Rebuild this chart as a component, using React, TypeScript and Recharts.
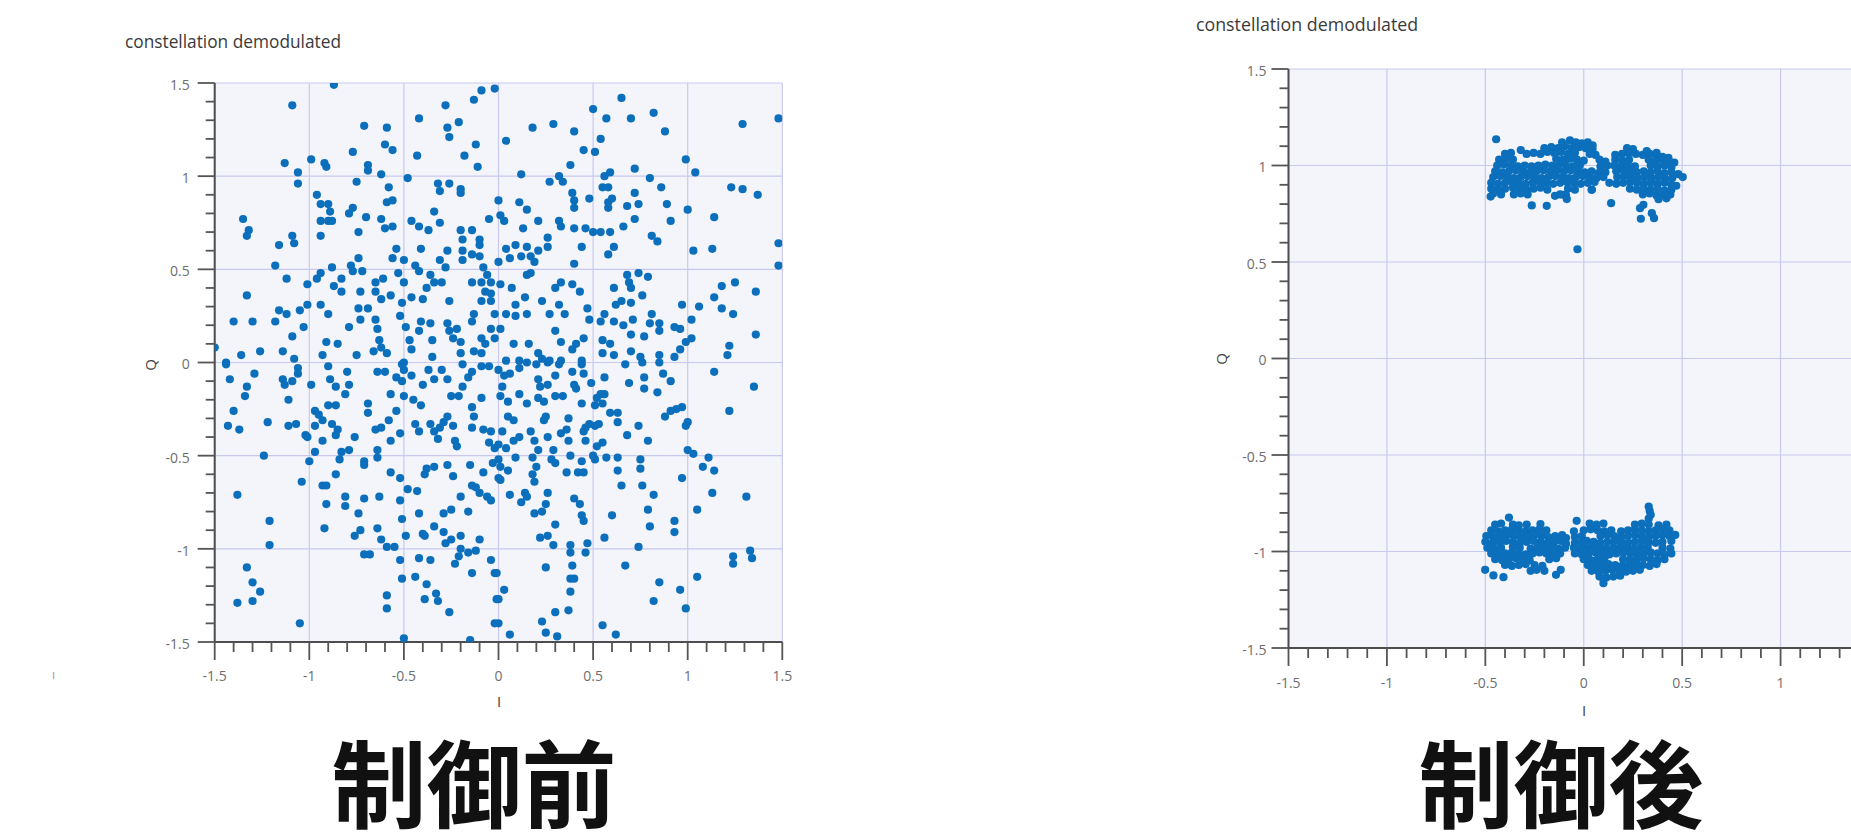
import { CartesianGrid, Scatter, ScatterChart, XAxis, YAxis } from 'recharts'

// axis ticks (same on I and Q)
const majorTicks = [-1.5, -1, -0.5, 0, 0.5, 1, 1.5]
const minorTicks = [
  -1.4, -1.3, -1.2, -1.1, -0.9, -0.8, -0.7, -0.6, -0.4, -0.3, -0.2, -0.1,
  0.1, 0.2, 0.3, 0.4, 0.6, 0.7, 0.8, 0.9, 1.1, 1.2, 1.3, 1.4,
]
const axisTicks = [...majorTicks, ...minorTicks].sort((a, b) => a - b)

const titles = ['constellation demodulated', 'constellation demodulated']
const captions = ['制御前', '制御後']

// 制御前 : [I, Q]
const beforePoints: [number, number][] = [
  [-0.87,1.49],[-1.09,1.38],[-0.71,1.27],[-0.59,1.26],[-0.60,1.17],[-0.56,1.14],[-0.77,1.13],[-0.42,1.31],[-0.28,1.38],[-0.27,1.26],
  [-0.26,1.21],[-0.21,1.29],[-0.13,1.41],[-0.09,1.46],[-0.02,1.47],[-0.12,1.17],[-0.18,1.11],[-0.11,1.05],[-0.43,1.11],[-0.48,0.99],
  [-0.99,1.09],[-0.92,1.07],[-0.91,1.05],[-1.13,1.07],[-1.06,1.02],[-1.06,0.96],[-0.69,1.06],[-0.69,1.03],[-0.62,1.01],[-0.75,0.97],
  [-0.58,0.94],[-0.32,0.96],[-0.31,0.92],[-0.26,0.96],[-0.20,0.93],[-0.20,0.91],[0.0,0.87],[-0.96,0.90],[-0.94,0.85],[-0.90,0.85],
  [-0.89,0.81],[-0.94,0.76],[-0.90,0.76],[-0.88,0.76],[-0.94,0.68],[-0.79,0.80],[-0.77,0.83],[-0.70,0.78],[-0.74,0.70],[-0.62,0.77],
  [-0.59,0.86],[-0.56,0.87],[-0.60,0.72],[-0.56,0.73],[-0.46,0.76],[-0.42,0.73],[-0.37,0.71],[-0.34,0.81],[-0.31,0.75],[-0.20,0.71],
  [-0.14,0.71],[-0.19,0.66],[-0.10,0.66],[-0.05,0.77],[-1.35,0.77],[-1.32,0.71],[-1.33,0.68],[-1.16,0.63],[-1.09,0.68],[-1.08,0.64],
  [-1.18,0.52],[-1.12,0.45],[-1.33,0.36],[-1.40,0.22],[-1.30,0.22],[-1.18,0.22],[-1.16,0.28],[-1.12,0.26],[-1.09,0.14],[-1.03,0.19],
  [-1.05,0.28],[-1.50,0.08],[-1.44,0.0],[-1.36,0.04],[-1.26,0.06],[-1.14,0.06],[-1.08,0.02],[-1.01,0.42],[-0.96,0.45],[-0.94,0.48],
  [-0.88,0.51],[-0.94,0.31],[-0.90,0.26],[-1.01,0.31],[-0.87,0.41],[-0.83,0.45],[-0.83,0.38],[-0.78,0.52],[-0.77,0.49],[-0.74,0.56],
  [-0.72,0.49],[-0.73,0.38],[-0.74,0.29],[-0.69,0.29],[-0.73,0.23],[-0.79,0.19],[-0.65,0.43],[-0.65,0.38],[-0.61,0.45],[-0.62,0.34],
  [-0.65,0.23],[-0.64,0.18],[-0.63,0.12],[-0.62,0.08],[-0.59,0.05],[-0.57,0.36],[-0.56,0.56],[-0.54,0.61],[-0.50,0.55],[-0.53,0.48],
  [-0.50,0.43],[-0.51,0.32],[-0.52,0.25],[-0.49,0.19],[-0.47,0.12],[-0.46,0.07],[-0.50,0.0],[-0.44,0.52],[-0.41,0.61],[-0.42,0.49],
  [-0.46,0.35],[-0.40,0.34],[-0.38,0.40],[-0.34,0.43],[-0.36,0.47],[-0.31,0.55],[-0.28,0.51],[-0.27,0.60],[-0.30,0.43],[-0.26,0.33],
  [-0.41,0.22],[-0.36,0.21],[-0.42,0.17],[-0.35,0.12],[-0.35,0.03],[-0.27,0.21],[-0.26,0.17],[-0.22,0.18],[-0.24,0.13],[-0.20,0.11],
  [-0.20,0.05],[-0.14,0.22],[-0.13,0.26],[-0.09,0.13],[-0.07,0.10],[-0.13,0.06],[-0.09,0.05],[-0.04,0.18],[-0.19,0.60],[-0.19,0.55],
  [-0.14,0.58],[-0.10,0.63],[-0.10,0.57],[-0.08,0.51],[-0.06,0.47],[-0.09,0.43],[-0.04,0.43],[-0.07,0.38],[-0.04,0.37],[-0.14,0.43],
  [-0.09,0.33],[-0.04,0.33],[0.0,0.54],[-0.02,0.26],[-0.02,0.13],[-0.66,0.06],[-0.75,0.04],[-0.91,0.11],[-0.85,0.10],[-0.93,0.04],
  [0.65,1.42],[0.50,1.36],[0.57,1.31],[0.70,1.31],[0.82,1.34],[0.88,1.24],[0.18,1.26],[0.29,1.28],[0.40,1.24],[0.04,1.19],
  [0.54,1.20],[0.45,1.14],[0.51,1.13],[0.38,1.06],[0.99,1.09],[1.04,1.02],[1.29,1.28],[1.48,1.31],[0.12,1.01],[0.27,0.97],
  [0.32,1.0],[0.34,0.97],[0.56,1.0],[0.59,1.02],[0.55,0.94],[0.58,0.94],[0.72,1.04],[0.80,0.99],[0.86,0.94],[1.23,0.94],
  [1.29,0.93],[1.37,0.90],[0.39,0.91],[0.40,0.87],[0.40,0.83],[0.48,0.88],[0.58,0.86],[0.60,0.88],[0.58,0.83],[0.68,0.84],
  [0.72,0.91],[0.74,0.85],[0.72,0.77],[0.66,0.73],[0.89,0.85],[0.91,0.76],[1.0,0.82],[1.14,0.78],[0.11,0.86],[0.15,0.82],
  [0.01,0.79],[0.03,0.76],[0.13,0.72],[0.21,0.76],[0.32,0.76],[0.33,0.73],[0.46,0.72],[0.50,0.70],[0.54,0.70],[0.59,0.70],
  [0.81,0.68],[0.84,0.65],[0.61,0.62],[0.58,0.58],[0.44,0.62],[0.40,0.53],[0.26,0.67],[0.26,0.62],[0.21,0.60],[0.17,0.57],
  [0.15,0.62],[0.09,0.63],[0.04,0.61],[0.06,0.56],[0.12,0.57],[0.19,0.54],[1.03,0.60],[1.13,0.61],[1.48,0.64],[1.48,0.52],
  [0.15,0.47],[0.17,0.48],[0.01,0.42],[0.07,0.40],[0.09,0.31],[0.14,0.35],[0.23,0.33],[0.30,0.40],[0.33,0.43],[0.39,0.42],
  [0.43,0.38],[0.32,0.31],[0.35,0.26],[0.27,0.26],[0.47,0.29],[0.48,0.23],[0.04,0.26],[0.09,0.25],[0.15,0.26],[0.01,0.18],
  [0.08,0.10],[0.16,0.10],[0.04,0.01],[0.11,0.01],[0.21,0.05],[0.27,0.01],[0.30,0.17],[0.33,0.11],[0.39,0.07],[0.41,0.10],
  [0.45,0.13],[0.44,0.01],[0.68,0.47],[0.69,0.43],[0.74,0.48],[0.70,0.40],[0.76,0.36],[0.79,0.46],[0.61,0.40],[0.62,0.31],
  [0.65,0.33],[0.70,0.32],[0.54,0.22],[0.56,0.26],[0.61,0.22],[0.66,0.20],[0.71,0.23],[0.81,0.26],[0.80,0.21],[0.85,0.21],
  [0.85,0.17],[0.70,0.15],[0.77,0.14],[0.93,0.19],[0.96,0.18],[0.97,0.31],[1.02,0.23],[1.06,0.30],[0.99,0.11],[1.02,0.13],
  [0.96,0.07],[0.93,0.03],[1.14,0.35],[1.18,0.41],[1.25,0.43],[1.18,0.29],[1.24,0.26],[1.36,0.38],[1.36,0.15],[1.22,0.09],
  [1.21,0.04],[0.55,0.12],[0.59,0.10],[0.55,0.05],[0.61,0.04],[0.70,0.06],[0.75,0.03],[0.85,0.04],[0.23,0.02],[0.33,0.01],
  [0.40,0.72],
  [-1.44,-0.01],[-1.42,-0.09],[-1.29,-0.06],[-1.33,-0.13],[-1.34,-0.18],[-1.40,-0.26],[-1.43,-0.34],[-1.37,-0.36],[-1.22,-0.32],[-1.24,-0.50],
  [-1.14,-0.09],[-1.13,-0.12],[-1.09,-0.10],[-1.06,-0.03],[-1.06,-0.06],[-1.11,-0.20],[-1.11,-0.34],[-1.07,-0.33],[-0.99,-0.12],[-1.02,-0.39],
  [-1.01,-0.40],[-0.97,-0.34],[-0.97,-0.26],[-0.95,-0.28],[-0.93,-0.31],[-0.88,-0.33],[-0.93,-0.42],[-0.97,-0.48],[-1.0,-0.53],[-1.04,-0.64],
  [-0.90,-0.02],[-0.89,-0.09],[-0.86,-0.13],[-0.90,-0.23],[-0.86,-0.23],[-0.85,-0.36],[-0.86,-0.39],[-0.80,-0.05],[-0.79,-0.12],[-0.81,-0.17],
  [-0.76,-0.40],[-0.83,-0.48],[-0.79,-0.47],[-0.84,-0.52],[-0.86,-0.60],[-0.93,-0.66],[-0.91,-0.66],[-0.91,-0.76],[-0.92,-0.89],[-0.81,-0.72],
  [-0.81,-0.77],[-0.71,-0.73],[-0.74,-0.81],[-0.73,-0.90],[-0.76,-0.93],[-0.71,-1.03],[-0.68,-1.03],[-0.71,-0.53],[-0.71,-0.55],[-0.69,-0.22],
  [-0.69,-0.27],[-0.64,-0.05],[-0.60,-0.05],[-0.65,-0.36],[-0.62,-0.35],[-0.64,-0.47],[-0.64,-0.51],[-0.63,-0.72],[-0.64,-0.89],[-0.62,-0.95],
  [-0.59,-0.99],[-0.55,-0.99],[-0.57,-0.59],[-0.58,-0.31],[-0.57,-0.42],[-0.54,-0.26],[-0.57,-0.17],[-0.54,-0.08],[-0.51,-0.01],[-0.50,-0.04],
  [-0.51,-0.10],[-0.50,-0.18],[-0.52,-0.38],[-0.52,-0.62],[-0.52,-0.74],[-0.51,-0.84],[-0.49,-0.93],[-0.52,-1.06],[-0.51,-1.16],[-0.59,-1.25],
  [-0.59,-1.32],[-0.50,-1.48],[-0.46,-0.07],[-0.45,-0.20],[-0.44,-0.33],[-0.42,-0.37],[-0.40,-0.12],[-0.41,-0.23],[-0.48,-0.68],[-0.43,-0.69],
  [-0.42,-0.81],[-0.40,-0.92],[-0.39,-0.93],[-0.42,-1.05],[-0.36,-1.06],[-0.44,-1.15],[-0.38,-1.19],[-0.39,-1.27],[-0.33,-1.24],[-0.32,-1.28],
  [-0.26,-1.34],[-0.37,-0.04],[-0.34,-0.09],[-0.30,-0.04],[-0.27,-0.09],[-0.25,-0.18],[-0.21,-0.18],[-0.19,-0.13],[-0.16,-0.08],[-0.14,-0.05],
  [-0.09,-0.02],[-0.05,-0.02],[-0.19,-0.01],[-0.36,-0.33],[-0.34,-0.37],[-0.31,-0.35],[-0.29,-0.32],[-0.27,-0.29],[-0.24,-0.34],[-0.32,-0.41],
  [-0.23,-0.42],[-0.22,-0.45],[-0.14,-0.24],[-0.13,-0.29],[-0.14,-0.35],[-0.09,-0.19],[-0.08,-0.36],[-0.04,-0.37],[-0.05,-0.43],[-0.02,-0.46],
  [-0.03,-0.54],[0.0,-0.62],[-0.08,-0.59],[-0.15,-0.55],[-0.14,-0.66],[-0.12,-0.67],[-0.10,-0.70],[-0.06,-0.72],[-0.04,-0.74],[-0.20,-0.72],
  [-0.24,-0.61],[-0.27,-0.55],[-0.34,-0.56],[-0.38,-0.57],[-0.39,-0.60],[-0.25,-0.79],[-0.29,-0.81],[-0.34,-0.88],[-0.29,-0.91],[-0.28,-0.97],
  [-0.25,-0.95],[-0.20,-0.93],[-0.16,-0.80],[-0.20,-1.0],[-0.21,-1.04],[-0.23,-1.08],[-0.16,-1.02],[-0.14,-1.13],[-0.10,-0.95],[-0.12,-1.01],
  [-0.04,-1.06],[-0.02,-1.13],[-0.01,-1.27],[-0.02,-1.40],[-0.15,-1.49],[-1.05,-1.40],[-1.38,-0.71],[-1.21,-0.85],[-1.21,-0.98],[-1.33,-1.10],
  [-1.30,-1.18],[-1.26,-1.23],[-1.30,-1.28],[-1.38,-1.29],
  [0.0,-0.04],[0.03,-0.07],[0.06,-0.06],[0.11,-0.03],[0.15,0.0],[0.20,-0.01],[0.26,0.0],[0.32,-0.01],[0.39,-0.05],[0.44,-0.01],
  [0.49,-0.11],[0.45,-0.06],[0.56,-0.08],[0.67,-0.01],[0.76,0.0],[0.69,-0.11],[0.77,-0.08],[0.77,-0.14],[0.84,-0.16],[0.87,-0.06],
  [0.91,-0.10],[0.85,0.0],[1.14,-0.05],[1.35,-0.13],[1.22,-0.26],[0.02,-0.13],[0.01,-0.18],[0.05,-0.21],[0.11,-0.17],[0.15,-0.22],
  [0.21,-0.09],[0.22,-0.13],[0.26,-0.12],[0.21,-0.19],[0.24,-0.21],[0.30,-0.18],[0.34,-0.18],[0.30,-0.07],[0.40,-0.12],[0.41,-0.14],
  [0.44,-0.22],[0.52,-0.19],[0.54,-0.17],[0.56,-0.17],[0.55,-0.22],[0.51,-0.23],[0.59,-0.27],[0.63,-0.27],[0.63,-0.32],[0.68,-0.39],
  [0.74,-0.34],[0.79,-0.42],[0.88,-0.29],[0.91,-0.26],[0.94,-0.25],[0.97,-0.24],[1.0,-0.32],[0.99,-0.34],[1.0,-0.47],[1.03,-0.49],
  [1.11,-0.51],[1.08,-0.56],[1.14,-0.58],[0.97,-0.62],[1.05,-0.79],[1.13,-0.70],[1.31,-0.72],[1.24,-1.04],[1.24,-1.08],[1.33,-1.01],
  [1.34,-1.05],[1.05,-1.15],[0.99,-1.32],[0.96,-1.22],[0.85,-1.18],[0.82,-1.28],[0.93,-0.85],[0.93,-0.91],[0.80,-0.88],[0.79,-0.79],
  [0.82,-0.71],[0.76,-0.66],[0.75,-0.57],[0.75,-0.52],[0.65,-0.66],[0.63,-0.58],[0.63,-0.51],[0.57,-0.51],[0.51,-0.52],[0.50,-0.50],
  [0.60,-0.82],[0.56,-0.94],[0.74,-0.99],[0.67,-1.09],[0.55,-1.41],[0.62,-1.46],[0.45,-0.37],[0.46,-0.35],[0.48,-0.33],[0.51,-0.34],
  [0.53,-0.33],[0.52,-0.45],[0.55,-0.43],[0.46,-0.42],[0.37,-0.30],[0.36,-0.36],[0.33,-0.38],[0.37,-0.42],[0.38,-0.50],[0.44,-0.53],
  [0.42,-0.59],[0.45,-0.59],[0.36,-0.59],[0.26,-0.40],[0.29,-0.47],[0.28,-0.52],[0.30,-0.54],[0.25,-0.29],[0.24,-0.31],[0.17,-0.37],
  [0.19,-0.42],[0.21,-0.47],[0.18,-0.51],[0.20,-0.56],[0.18,-0.60],[0.19,-0.64],[0.05,-0.29],[0.08,-0.31],[0.11,-0.40],[0.08,-0.42],
  [0.02,-0.37],[0.0,-0.44],[0.0,-0.52],[0.01,-0.56],[0.04,-0.46],[0.09,-0.51],[0.05,-0.58],[0.01,-0.63],[0.06,-0.71],[0.12,-0.75],
  [0.14,-0.70],[0.15,-0.72],[0.26,-0.70],[0.25,-0.76],[0.19,-0.81],[0.23,-0.80],[0.30,-0.87],[0.22,-0.94],[0.26,-0.93],[0.29,-0.98],
  [0.25,-1.10],[0.40,-0.73],[0.43,-0.76],[0.44,-0.82],[0.45,-0.85],[0.38,-0.98],[0.38,-1.02],[0.39,-1.09],[0.38,-1.16],[0.40,-1.16],
  [0.38,-1.23],[0.37,-1.33],[0.30,-1.34],[0.23,-1.39],[0.25,-1.45],[0.31,-1.47],[0.47,-0.97],[0.46,-1.02],[-0.01,-1.13],[0.03,-1.22],
  [0.0,-1.27],[0.0,-1.40],[0.06,-1.46],
]

// 制御後, cluster near Q = +1
const afterUpper: [number, number][] = [
  [-0.11,1.12],[-0.07,1.13],[-0.04,1.12],[-0.01,1.115],[0.02,1.12],[0.045,1.105],
  [-0.20,1.09],[-0.165,1.095],[-0.13,1.09],[-0.095,1.10],[-0.06,1.09],[-0.025,1.095],[0.01,1.09],[0.045,1.085],[0.22,1.09],[0.25,1.085],[-0.32,1.08],[0.32,1.075],[0.37,1.065],
  [-0.40,1.06],[-0.37,1.065],[-0.29,1.06],[-0.255,1.065],[-0.22,1.06],[-0.185,1.07],[-0.15,1.065],[-0.115,1.07],[-0.08,1.06],[-0.045,1.065],[0.03,1.06],[0.06,1.055],
  [0.16,1.055],[0.195,1.06],[0.23,1.065],[0.265,1.06],[0.30,1.055],[0.335,1.06],[0.37,1.05],[0.40,1.045],[0.43,1.04],
  [-0.43,1.03],[-0.395,1.035],[-0.36,1.03],[-0.14,1.035],[-0.105,1.03],[-0.07,1.035],[-0.035,1.03],[0.0,1.025],[0.08,1.03],[0.11,1.02],
  [0.16,1.03],[0.195,1.025],[0.23,1.03],[0.33,1.03],[0.365,1.025],[0.40,1.03],[0.435,1.02],[0.46,1.015],
  [-0.44,1.0],[-0.405,1.005],[-0.37,1.0],[-0.335,0.995],[-0.30,1.0],[-0.265,0.995],[-0.23,1.0],[-0.195,1.005],[-0.16,1.0],[-0.125,1.005],[-0.09,1.0],[-0.055,0.995],[-0.02,1.0],
  [0.085,0.995],[0.12,1.0],[0.155,1.0],[0.19,0.995],[0.225,1.0],[0.26,0.995],[0.34,1.0],[0.375,0.995],[0.41,1.0],[0.445,0.99],
  [-0.45,0.97],[-0.415,0.965],[-0.38,0.97],[-0.345,0.975],[-0.31,0.97],[-0.275,0.965],[-0.24,0.97],[-0.205,0.975],[-0.17,0.97],[-0.135,0.975],[-0.10,0.97],[-0.065,0.975],[-0.03,0.97],[0.005,0.965],
  [0.04,0.97],[0.075,0.96],[0.11,0.965],[0.165,0.97],[0.20,0.975],[0.235,0.97],[0.27,0.965],[0.305,0.97],[0.34,0.965],[0.375,0.97],[0.41,0.96],[0.445,0.965],[0.48,0.955],
  [-0.46,0.94],[-0.425,0.945],[-0.39,0.94],[-0.355,0.935],[-0.32,0.94],[-0.285,0.945],[-0.25,0.94],[-0.215,0.935],[-0.18,0.94],[-0.145,0.945],[-0.11,0.94],[-0.075,0.935],[-0.04,0.94],[-0.005,0.945],
  [0.03,0.94],[0.065,0.935],[0.10,0.94],[0.17,0.94],[0.205,0.945],[0.24,0.94],[0.275,0.935],[0.31,0.94],[0.345,0.935],[0.38,0.94],[0.415,0.93],[0.45,0.935],
  [-0.47,0.91],[-0.435,0.905],[-0.40,0.91],[-0.365,0.915],[-0.33,0.91],[-0.295,0.905],[-0.26,0.91],[-0.225,0.915],[-0.19,0.91],[-0.155,0.905],[-0.12,0.91],[-0.085,0.915],[-0.05,0.91],[-0.015,0.905],
  [0.02,0.91],[0.055,0.915],[0.13,0.91],[0.165,0.905],[0.20,0.91],[0.235,0.915],[0.27,0.91],[0.305,0.905],[0.34,0.91],[0.375,0.905],[0.41,0.91],[0.445,0.90],[0.47,0.895],
  [-0.47,0.88],[-0.435,0.875],[-0.40,0.88],[-0.36,0.885],[-0.325,0.88],[-0.29,0.875],[-0.255,0.88],[-0.22,0.885],[-0.185,0.875],[-0.08,0.88],[-0.045,0.875],[0.04,0.875],
  [0.235,0.88],[0.27,0.875],[0.305,0.88],[0.34,0.875],[0.375,0.88],[0.41,0.87],[0.445,0.875],
  [-0.46,0.855],[-0.42,0.85],[-0.355,0.85],[-0.32,0.855],[-0.285,0.85],[-0.12,0.85],[-0.09,0.845],[0.30,0.85],[0.335,0.855],[0.37,0.845],[0.405,0.85],[0.44,0.85],
  [0.38,0.825],[0.42,0.83],
  [-0.445,1.136],[-0.473,0.839],[-0.264,0.793],[-0.188,0.791],[-0.032,0.566],[0.139,0.805],[0.286,0.779],[0.303,0.796],[0.29,0.724],[0.346,0.753],
  [0.357,0.727],[0.503,0.94],[-0.103,0.848],[-0.086,0.826],[-0.146,0.843],[0.041,0.874],
]

// 制御後, cluster near Q = -1
const afterLower: [number, number][] = [
  [0.33,-0.767],[0.335,-0.79],[0.34,-0.81],[-0.38,-0.824],[0.33,-0.83],
  [-0.45,-0.86],[-0.42,-0.855],[-0.36,-0.86],[-0.33,-0.865],[-0.29,-0.86],[-0.22,-0.858],[0.03,-0.855],[0.065,-0.86],[0.10,-0.855],[0.26,-0.86],[0.295,-0.855],[0.33,-0.86],[0.38,-0.865],[0.42,-0.86],
  [-0.47,-0.89],[-0.435,-0.895],[-0.40,-0.89],[-0.365,-0.885],[-0.33,-0.89],[-0.295,-0.895],[-0.26,-0.89],[-0.225,-0.885],[-0.19,-0.89],[-0.05,-0.895],
  [0.0,-0.89],[0.035,-0.885],[0.07,-0.89],[0.105,-0.895],[0.14,-0.89],[0.19,-0.895],[0.225,-0.89],[0.26,-0.885],[0.295,-0.89],[0.33,-0.895],[0.365,-0.89],[0.40,-0.885],[0.435,-0.89],
  [-0.495,-0.92],[-0.46,-0.925],[-0.425,-0.92],[-0.39,-0.915],[-0.355,-0.92],[-0.32,-0.925],[-0.285,-0.92],[-0.25,-0.915],[-0.215,-0.92],[-0.18,-0.925],[-0.145,-0.92],[-0.11,-0.915],[-0.09,-0.93],
  [-0.045,-0.925],[-0.01,-0.92],[0.085,-0.92],[0.12,-0.915],[0.155,-0.92],[0.19,-0.925],[0.225,-0.92],[0.26,-0.915],[0.295,-0.92],[0.33,-0.925],[0.365,-0.92],[0.40,-0.915],[0.435,-0.92],[0.465,-0.914],
  [-0.50,-0.95],[-0.465,-0.955],[-0.43,-0.95],[-0.395,-0.945],[-0.36,-0.95],[-0.325,-0.955],[-0.29,-0.95],[-0.255,-0.945],[-0.22,-0.95],[-0.185,-0.955],[-0.15,-0.95],[-0.115,-0.945],[-0.09,-0.96],
  [-0.045,-0.955],[-0.01,-0.95],[0.015,-0.945],[0.05,-0.95],[0.085,-0.955],[0.12,-0.95],[0.155,-0.945],[0.19,-0.95],[0.225,-0.955],[0.26,-0.95],[0.295,-0.945],[0.33,-0.95],[0.365,-0.955],[0.40,-0.95],[0.445,-0.945],
  [-0.49,-0.98],[-0.455,-0.985],[-0.42,-0.98],[-0.36,-0.975],[-0.325,-0.98],[-0.27,-0.985],[-0.235,-0.98],[-0.20,-0.975],[-0.165,-0.98],[-0.13,-0.985],[-0.095,-0.98],
  [-0.05,-0.98],[-0.02,-0.985],[0.01,-0.98],[0.045,-0.975],[0.08,-0.98],[0.115,-0.985],[0.15,-0.98],[0.185,-0.975],[0.22,-0.98],[0.255,-0.985],[0.29,-0.98],[0.325,-0.975],[0.40,-0.98],[0.44,-0.985],
  [-0.47,-1.01],[-0.435,-1.015],[-0.40,-1.01],[-0.365,-1.005],[-0.33,-1.01],[-0.295,-1.015],[-0.26,-1.01],[-0.225,-1.005],[-0.19,-1.01],[-0.155,-1.015],[-0.12,-1.01],
  [-0.045,-1.01],[-0.01,-1.015],[0.025,-1.01],[0.06,-1.005],[0.095,-1.01],[0.13,-1.015],[0.165,-1.01],[0.20,-1.005],[0.235,-1.01],[0.27,-1.015],[0.305,-1.01],[0.34,-1.005],[0.375,-1.01],[0.41,-1.015],[0.445,-1.01],
  [-0.45,-1.04],[-0.415,-1.045],[-0.38,-1.04],[-0.345,-1.035],[-0.31,-1.04],[-0.275,-1.045],[-0.175,-1.04],[-0.14,-1.035],
  [0.0,-1.04],[0.035,-1.045],[0.07,-1.04],[0.105,-1.035],[0.20,-1.04],[0.235,-1.045],[0.27,-1.04],[0.305,-1.035],[0.34,-1.04],[0.375,-1.045],[0.41,-1.04],
  [-0.40,-1.07],[-0.365,-1.075],[-0.33,-1.07],[-0.295,-1.065],[-0.25,-1.07],[-0.21,-1.075],
  [0.02,-1.07],[0.055,-1.075],[0.09,-1.07],[0.125,-1.065],[0.16,-1.07],[0.195,-1.075],[0.23,-1.07],[0.265,-1.065],[0.30,-1.07],[0.335,-1.075],[0.37,-1.065],
  [-0.27,-1.10],[-0.24,-1.095],[-0.20,-1.10],[-0.117,-1.095],[0.04,-1.10],[0.075,-1.105],[0.11,-1.10],[0.145,-1.095],[0.18,-1.10],[0.215,-1.105],[0.25,-1.10],[0.285,-1.095],
  [0.08,-1.13],[0.115,-1.135],[0.15,-1.13],[0.185,-1.125],[-0.459,-1.124],[-0.408,-1.133],[-0.141,-1.121],
  [0.10,-1.164],[-0.501,-1.095],[-0.036,-0.841],
]

const toRows = (pts: [number, number][]) => pts.map(([i, q]) => ({ i, q }))
const beforeData = toRows(beforePoints)
const afterData = toRows([...afterUpper, ...afterLower])

const DOT = '#0b6fbc'
const TICK = '#555'
const LABEL = '#6e6e6e'
const FONT = '"Open Sans", "Noto Sans", sans-serif'

const isMajor = (v: number) => majorTicks.some((m) => Math.abs(m - v) < 1e-9)

const makeXTick = (gap: number) => (props: any) => {
  const { x, y, payload } = props
  const major = isMajor(payload.value)
  return (
    <g>
      <line x1={x} y1={y} x2={x} y2={y + (major ? 18 : 10)} stroke={TICK} strokeWidth={1.8} />
      {major && (
        <text x={x} y={y + gap} dy="0.35em" textAnchor="middle" fontSize={14} fontFamily={FONT} fill={LABEL}>
          {String(payload.value)}
        </text>
      )}
    </g>
  )
}

const makeYTick = (gap: number) => (props: any) => {
  const { x, y, payload } = props
  const major = isMajor(payload.value)
  return (
    <g>
      <line x1={x} y1={y} x2={x - (major ? 17 : 9)} y2={y} stroke={TICK} strokeWidth={1.8} />
      {major && (
        <text x={x - gap} y={y + 2} dy="0.35em" textAnchor="end" fontSize={14} fontFamily={FONT} fill={LABEL}>
          {String(payload.value)}
        </text>
      )}
    </g>
  )
}

const Dot = (props: any) => <circle cx={props.cx} cy={props.cy} r={4.1} fill={DOT} />

type PanelProps = {
  width: number
  height: number
  margin: { top: number; right: number; bottom: number; left: number }
  data: { i: number; q: number }[]
  xGap: number
  yGap: number
}

function Constellation({ width, height, margin, data, xGap, yGap }: PanelProps) {
  return (
    <ScatterChart width={width} height={height} margin={margin}>
      <CartesianGrid
        fill="#f3f5fa"
        stroke="#c9c9ef"
        strokeWidth={1.2}
        horizontalValues={majorTicks}
        verticalValues={majorTicks}
      />
      <XAxis
        type="number"
        dataKey="i"
        domain={[-1.5, 1.5]}
        ticks={axisTicks}
        interval={0}
        tickSize={0}
        tickMargin={0}
        tickLine={false}
        tick={makeXTick(xGap)}
        axisLine={{ stroke: '#4d4d4d', strokeWidth: 2 }}
        height={50}
        allowDataOverflow
      />
      <XAxis
        xAxisId="top"
        orientation="top"
        type="number"
        domain={[-1.5, 1.5]}
        height={0}
        tick={false}
        tickLine={false}
        axisLine={{ stroke: '#9ea9bf', strokeWidth: 1.5 }}
        allowDataOverflow
      />
      <YAxis
        type="number"
        dataKey="q"
        domain={[-1.5, 1.5]}
        ticks={axisTicks}
        interval={0}
        tickSize={0}
        tickMargin={0}
        tickLine={false}
        tick={makeYTick(yGap)}
        axisLine={{ stroke: '#4d4d4d', strokeWidth: 2 }}
        width={60}
        allowDataOverflow
      />
      <YAxis
        yAxisId="right"
        orientation="right"
        type="number"
        domain={[-1.5, 1.5]}
        width={0}
        tick={false}
        tickLine={false}
        axisLine={{ stroke: '#a9b0bf', strokeWidth: 1.2 }}
        allowDataOverflow
      />
      <Scatter data={data} isAnimationActive={false} shape={Dot} />
    </ScatterChart>
  )
}

const abs = (left: number, top: number): React.CSSProperties => ({ position: 'absolute', left, top })

export default function App() {
  return (
    <div
      style={{
        position: 'fixed',
        left: 0,
        top: 0,
        width: 1851,
        height: 834,
        overflow: 'hidden',
        background: '#fff',
        fontFamily: FONT,
      }}
    >
      {/* left panel */}
      <div style={{ ...abs(125, 30), fontSize: 17.3, lineHeight: '24px', color: '#3a3a3a', whiteSpace: 'nowrap' }}>{titles[0]}</div>
      <div style={abs(110, 60)}>
        <Constellation
          width={700}
          height={680}
          margin={{ top: 23, right: 27.7, bottom: 48, left: 44.7 }}
          data={beforeData}
          xGap={34}
          yGap={25}
        />
      </div>
      <div style={{ ...abs(141, 356), width: 18, height: 18, lineHeight: '18px', textAlign: 'center', fontSize: 15, color: '#444', transform: 'rotate(-90deg)' }}>Q</div>
      <div style={{ ...abs(492, 693), width: 14, height: 16, lineHeight: '16px', textAlign: 'center', fontSize: 15, color: '#444' }}>I</div>
      <div style={{ ...abs(52, 666), fontSize: 12, color: '#9a9a9a' }}>ı</div>

      {/* right panel */}
      <div style={{ ...abs(1196, 12), fontSize: 17.8, lineHeight: '24px', color: '#3a3a3a', whiteSpace: 'nowrap' }}>{titles[1]}</div>
      <div style={abs(1190, 50)}>
        <Constellation
          width={720}
          height={680}
          margin={{ top: 19, right: 31, bottom: 32, left: 38.5 }}
          data={afterData}
          xGap={35}
          yGap={22}
        />
      </div>
      <div style={{ ...abs(1212, 350), width: 18, height: 18, lineHeight: '18px', textAlign: 'center', fontSize: 15, color: '#444', transform: 'rotate(-90deg)' }}>Q</div>
      <div style={{ ...abs(1577, 702), width: 14, height: 16, lineHeight: '16px', textAlign: 'center', fontSize: 15, color: '#444' }}>I</div>

      {/* captions */}
      {[474, 1561].map((cx, k) => (
        <div
          key={k}
          style={{
            ...abs(cx - 200, 732),
            width: 400,
            textAlign: 'center',
            fontSize: 95,
            lineHeight: 1,
            fontWeight: 700,
            color: '#111',
            fontFamily: '"Noto Sans CJK JP", "Noto Sans CJK SC", sans-serif',
            whiteSpace: 'nowrap',
          }}
        >
          {captions[k]}
        </div>
      ))}
    </div>
  )
}
